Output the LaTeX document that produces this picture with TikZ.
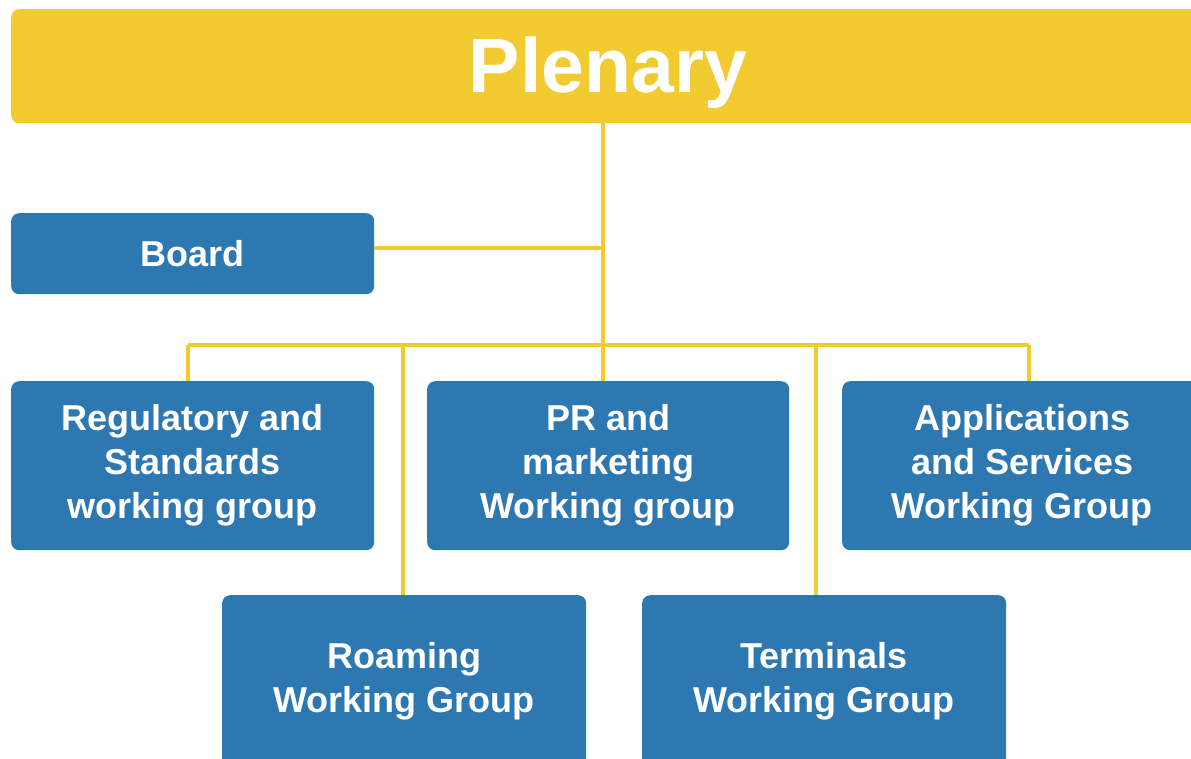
\documentclass[tikz,border=0pt]{standalone}
\usepackage{fontspec}
\setmainfont{Liberation Sans}
\definecolor{plenyellow}{HTML}{F2CB30}
\definecolor{wgblue}{HTML}{2E78B2}
\tikzset{
  wgbox/.style={fill=wgblue, draw=none, rounded corners=8pt, inner sep=0pt,
    text=white, align=center, font=\fontsize{36}{44}\selectfont\bfseries},
  conn/.style={draw=plenyellow, line width=4.5pt},
}
\begin{document}
\begin{tikzpicture}[x=1pt,y=-1pt]
\useasboundingbox (0,0) rectangle (1191,758);
\clip (0,0) rectangle (1191,758);
\fill[white] (0,0) rectangle (1191,758);
\coordinate (top) at (603,123);
\coordinate (bj) at (603,248);
\coordinate (bus) at (603,345);
\coordinate (bl) at (188,345);
\coordinate (bml) at (403,345);
\coordinate (bmr) at (816,345);
\coordinate (br) at (1029,345);
\node[fill=plenyellow, rounded corners=8pt, minimum width=1200pt, minimum height=114pt, anchor=north west, inner sep=0pt] (plen) at (11,9) {};
\node[text=white, font=\fontsize{77}{80}\selectfont\bfseries, anchor=base, inner sep=0pt] (plentext) at (608,92) {Plenary};
\node[wgbox, minimum width=363pt, minimum height=81pt, anchor=north west] (board) at (11,213) {Board};
\node[wgbox, minimum width=363pt, minimum height=169pt, anchor=north west] (reg) at (11,381) {Regulatory and\\Standards\\working group};
\node[wgbox, minimum width=362pt, minimum height=169pt, anchor=north west] (pr) at (427,381) {PR and\\marketing\\Working group};
\node[wgbox, minimum width=360pt, minimum height=169pt, anchor=north west] (app) at (842,381) {Applications\\and Services\\Working Group};
\node[wgbox, minimum width=364pt, minimum height=172pt, anchor=north west] (roam) at (222,595) {Roaming\\Working Group};
\node[wgbox, minimum width=364pt, minimum height=172pt, anchor=north west] (term) at (642,595) {Terminals\\Working Group};
\draw[conn] (plen.south -| top) -- (bus);
\draw[conn] (board.east |- bj) -- (bj);
\draw[conn] (bl) -- (br);
\draw[conn] (bl) -- (reg.north -| bl);
\draw[conn] (bml) -- (roam.north -| bml);
\draw[conn] (bus) -- (pr.north -| bus);
\draw[conn] (bmr) -- (term.north -| bmr);
\draw[conn] (br) -- (app.north -| br);
\end{tikzpicture}
\end{document}
